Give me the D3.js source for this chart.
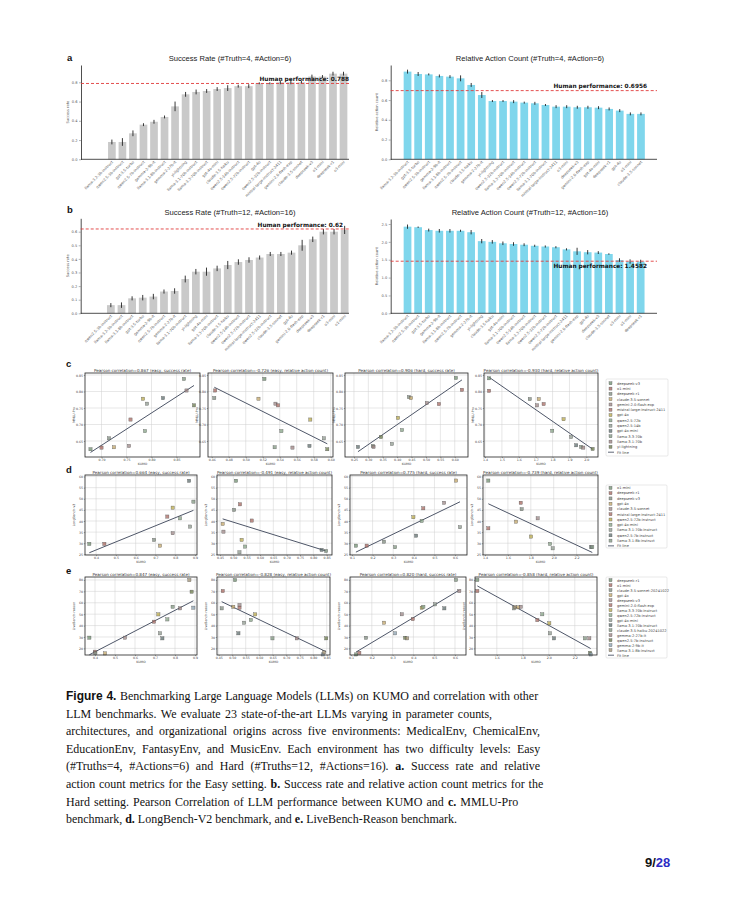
<!DOCTYPE html>
<html><head><meta charset="utf-8">
<script src="https://cdn.jsdelivr.net/npm/d3@7"></script>
<style>body{margin:0;background:#fff}svg{display:block}</style>
</head><body>
<script>
// ---------------- DATA ----------------
const aLeftNames=["llama-3.2-3b-instruct","qwen2.5-3b-instruct","gpt-3.5-turbo","qwen2.5-7b-instruct","gemma-2-9b-it","llama-3.1-8b-instruct","gemma-2-27b-it","yi-lightning","llama-3.1-70b-instruct","llama-3.3-70b-instruct","gpt-4o-mini","claude-3.5-haiku","qwen2.5-14b-instruct","qwen2.5-72b-instruct","gpt-4o","qwen2.5-32b-instruct","mistral-large-instruct-2411","gemini-2.0-flash-exp","claude-3.5-sonnet","deepseek-v3","o1-mini","deepseek-r1","o3-mini"];
const aLeftValues=[0.18,0.18,0.27,0.36,0.39,0.44,0.55,0.675,0.70,0.71,0.73,0.74,0.76,0.76,0.79,0.79,0.80,0.80,0.80,0.86,0.86,0.89,0.89];
const aLeftErr=[0.025,0.04,0.03,0.015,0.02,0.015,0.05,0.025,0.025,0.02,0.02,0.03,0.015,0.02,0.01,0.01,0.02,0.02,0.015,0.02,0.015,0.02,0.02];
const aLeftHuman=0.788;

const aRightNames=["llama-3.2-3b-instruct","gpt-3.5-turbo","qwen2.5-3b-instruct","gemma-2-9b-it","llama-3.1-8b-instruct","qwen2.5-7b-instruct","claude-3.5-haiku","gemma-2-27b-it","yi-lightning","qwen2.5-32b-instruct","llama-3.3-70b-instruct","qwen2.5-14b-instruct","qwen2.5-72b-instruct","llama-3.1-70b-instruct","mistral-large-instruct-2411","o3-mini","deepseek-v3","gemini-2.0-flash-exp","gpt-4o-mini","deepseek-r1","gpt-4o","o1-mini","claude-3.5-sonnet"];
const aRightValues=[0.888,0.864,0.86,0.844,0.837,0.82,0.753,0.651,0.59,0.59,0.584,0.574,0.567,0.55,0.533,0.533,0.527,0.527,0.523,0.51,0.493,0.46,0.46];
const aRightErr=[0.02,0.02,0.01,0.015,0.015,0.03,0.02,0.03,0.01,0.01,0.015,0.01,0.015,0.01,0.015,0.015,0.015,0.015,0.015,0.015,0.015,0.015,0.015];
const aRightHuman=0.6956;

const bLeftNames=["qwen2.5-3b-instruct","llama-3.2-3b-instruct","llama-3.1-8b-instruct","gpt-3.5-turbo","gemma-2-9b-it","qwen2.5-7b-instruct","gemma-2-27b-it","llama-3.1-70b-instruct","yi-lightning","gpt-4o-mini","llama-3.3-70b-instruct","claude-3.5-haiku","qwen2.5-14b-instruct","qwen2.5-72b-instruct","mistral-large-instruct-2411","qwen2.5-32b-instruct","claude-3.5-sonnet","gpt-4o","gemini-2.0-flash-exp","deepseek-v3","deepseek-r1","o3-mini","o1-mini"];
const bLeftValues=[0.06,0.06,0.11,0.115,0.123,0.16,0.164,0.252,0.306,0.306,0.33,0.355,0.377,0.392,0.41,0.436,0.436,0.446,0.50,0.544,0.60,0.60,0.613];
const bLeftErr=[0.015,0.02,0.015,0.02,0.02,0.015,0.02,0.025,0.02,0.03,0.02,0.03,0.02,0.02,0.015,0.015,0.015,0.015,0.04,0.02,0.02,0.02,0.03];
const bLeftHuman=0.62;

const bRightNames=["llama-3.2-3b-instruct","qwen2.5-3b-instruct","gpt-3.5-turbo","gemma-2-9b-it","llama-3.1-8b-instruct","qwen2.5-7b-instruct","gemma-2-27b-it","yi-lightning","claude-3.5-haiku","gpt-4o-mini","llama-3.1-70b-instruct","qwen2.5-14b-instruct","llama-3.3-70b-instruct","qwen2.5-32b-instruct","qwen2.5-72b-instruct","mistral-large-instruct-2411","gemini-2.0-flash-exp","gpt-4o","deepseek-v3","claude-3.5-sonnet","o3-mini","o1-mini","deepseek-r1"];
const bRightValues=[2.425,2.41,2.33,2.31,2.31,2.31,2.27,2.02,2.0,1.96,1.94,1.92,1.89,1.87,1.85,1.79,1.735,1.71,1.70,1.66,1.49,1.45,1.45];
const bRightErr=[0.06,0.02,0.04,0.05,0.05,0.03,0.06,0.06,0.05,0.05,0.05,0.04,0.03,0.03,0.03,0.03,0.1,0.06,0.04,0.02,0.05,0.06,0.05];
const bRightHuman=1.4582;

// scatter legends
const cLegend=["deepseek-v3","o1-mini","deepseek-r1","claude-3.5-sonnet","gemini-2.0-flash-exp","mistral-large-instruct-2411","gpt-4o","qwen2.5-72b","qwen2.5-14b","gpt-4o-mini","llama-3.3-70b","llama-3.1-70b","yi-lightning"];
const dLegend=["o1-mini","deepseek-r1","deepseek-v3","gpt-4o","claude-3.5-sonnet","mistral-large-instruct-2411","qwen2.5-72b-instruct","gpt-4o-mini","llama-3.1-70b-instruct","qwen2.5-7b-instruct","llama-3.1-8b-instruct"];
const eLegend=["deepseek-r1","o1-mini","claude-3.5-sonnet-20241022","gpt-4o","deepseek-v3","gemini-2.0-flash-exp","llama-3.3-70b-instruct","qwen2.5-72b-instruct","gpt-4o-mini","llama-3.1-70b-instruct","claude-3.5-haiku-20241022","gemma-2-27b-it","qwen2.5-7b-instruct","gemma-2-9b-it","llama-3.1-8b-instruct"];

// row c: KUMO vs MMLU-Pro
const c1X=[0.678,0.700,0.715,0.725,0.755,0.758,0.783,0.787,0.791,0.823,0.865,0.870,0.885];
const c1Y=[0.625,0.630,0.658,0.631,0.635,0.715,0.778,0.680,0.763,0.780,0.838,0.803,0.758];
const c2X=[0.522,0.464,0.463,0.515,0.535,0.538,0.576,0.542,0.592,0.575,0.534,0.555,0.596];
const c2Y=[0.838,0.803,0.780,0.778,0.763,0.758,0.715,0.680,0.658,0.635,0.631,0.630,0.625];
const c3X=[0.604,0.625,0.441,0.448,0.503,0.545,0.403,0.417,0.382,0.264,0.316,0.318,0.344];
const c3Y=[0.841,0.805,0.783,0.780,0.765,0.762,0.720,0.683,0.641,0.632,0.635,0.632,0.662];
const c4X=[1.424,1.424,1.665,1.718,1.708,1.747,1.865,1.798,1.910,1.940,1.969,1.982,2.037];
const c4Y=[0.840,0.802,0.777,0.777,0.758,0.762,0.716,0.681,0.662,0.637,0.632,0.630,0.626];
// row d: KUMO vs LongBench-v2
const d1X=[0.366,0.442,0.693,0.723,0.787,0.760,0.787,0.824,0.875,0.870,0.892];
const d1Y=[29.7,29.7,31.5,28.9,34.5,42.0,46.0,41.2,37.5,58.1,48.7];
const d2X=[0.510,0.525,0.503,0.460,0.463,0.569,0.531,0.544,0.523,0.831,0.848];
const d2Y=[58.1,47.5,45.0,38.7,35.2,40.2,31.5,28.5,25.9,27.0,26.5];
const d3X=[0.119,0.171,0.255,0.605,0.547,0.446,0.398,0.438,0.624,0.411,0.309];
const d3Y=[28.9,28.9,30.7,58.2,48.2,45.7,41.7,40.0,37.2,33.4,28.2];
const d4X=[1.429,1.712,1.720,1.671,1.860,1.429,1.802,1.968,1.991,2.326,2.337];
const d4Y=[58.2,48.2,45.3,39.7,41.2,36.7,33.0,29.7,27.7,28.2,28.2];
// row e: KUMO vs LiveBench-Reason
const e1X=[0.372,0.400,0.402,0.450,0.550,0.695,0.717,0.762,0.725,0.737,0.788,0.825,0.883,0.892,0.872];
const e1Y=[29.4,17.1,16.0,15.6,29.4,43.4,49.8,45.4,33.2,28.8,56.5,55.1,69.7,55.7,79.9];
const e2X=[0.5105,0.465,0.461,0.504,0.527,0.527,0.585,0.569,0.544,0.523,0.649,0.739,0.848,0.835,0.840];
const e2Y=[79.9,70.3,55.1,56.5,58.0,55.7,49.8,44.9,42.5,33.2,28.8,28.8,28.8,14.7,16.5];
const e3X=[0.124,0.140,0.172,0.259,0.344,0.397,0.440,0.448,0.504,0.549,0.605,0.621,0.360,0.312,0.370];
const e3Y=[14.7,16.1,29.3,42.5,49.9,45.7,55.6,56.5,58.6,55.1,80.0,70.3,29.3,33.2,28.8];
const e4X=[1.45,1.45,1.732,1.765,1.784,1.912,2.004,1.95,2.009,2.04,2.278,2.312,2.317,2.322,1.74];
const e4Y=[80.0,70.3,55.1,56.0,56.5,44.8,42.0,49.9,33.2,28.8,28.8,28.8,16.1,14.7,56.2];

const pearsonC=["Pearson correlation=0.867 (easy, success rate)","Pearson correlation=-0.726 (easy, relative action count)","Pearson correlation=0.906 (hard, success rate)","Pearson correlation=-0.930 (hard, relative action count)"];
const pearsonD=["Pearson correlation=0.664 (easy, success rate)","Pearson correlation=-0.491 (easy, relative action count)","Pearson correlation=0.775 (hard, success rate)","Pearson correlation=-0.739 (hard, relative action count)"];
const pearsonE=["Pearson correlation=0.847 (easy, success rate)","Pearson correlation=-0.828 (easy, relative action count)","Pearson correlation=0.820 (hard, success rate)","Pearson correlation=-0.858 (hard, relative action count)"];

const captionLines=[
 [["Figure 4.","fig"],[" Benchmarking Large Language Models (LLMs) on KUMO and correlation with other",""]],
 [["LLM benchmarks. We evaluate 23 state-of-the-art LLMs varying in parameter counts,",""]],
 [["architectures, and organizational origins across five environments: MedicalEnv, ChemicalEnv,",""]],
 [["EducationEnv, FantasyEnv, and MusicEnv. Each environment has two difficulty levels: Easy",""]],
 [["(#Truths=4, #Actions=6) and Hard (#Truths=12, #Actions=16). ",""],["a.","b"],[" Success rate and relative",""]],
 [["action count metrics for the Easy setting. ",""],["b.","b"],[" Success rate and relative action count metrics for the",""]],
 [["Hard setting. Pearson Correlation of LLM performance between KUMO and ",""],["c.","b"],[" MMLU-Pro",""]],
 [["benchmark, ",""],["d.","b"],[" LongBench-V2 benchmark, and ",""],["e.","b"],[" LiveBench-Reason benchmark.",""]]
];

// ---------------- STYLE ----------------
const palette=["#6f8f6f","#a5645c","#7d8b7d","#c2a466","#9c8585","#a86a62","#b8a84a","#84a184","#8d9a8d","#5f6f6f","#7f967f","#9a7f7f","#6a7a4a","#8aa0b0","#a09070"];
const SANS="'Liberation Sans', Arial, sans-serif";
const DSANS="'DejaVu Sans', sans-serif";
const SERIF="'Liberation Serif', serif";

const svg=d3.select("body").append("svg").attr("width",739).attr("height",902);
svg.append("rect").attr("width",739).attr("height",902).attr("fill","#fff");

function barPanel(o){
  const g=svg.append("g");
  const n=o.values.length;
  const x=d3.scaleBand().domain(d3.range(n)).range([o.bandL,o.bandR]).padding(0.27);
  const y=d3.scaleLinear().domain([0,o.ymax]).range([o.bottom,o.top]);
  g.selectAll("rect.bar").data(o.values).join("rect")
    .attr("x",(d,i)=>x(i)).attr("width",x.bandwidth())
    .attr("y",d=>y(d)).attr("height",d=>y(0)-y(d)).attr("fill",o.color);
  g.selectAll("line.err").data(o.values).join("line")
    .attr("x1",(d,i)=>x(i)+x.bandwidth()/2).attr("x2",(d,i)=>x(i)+x.bandwidth()/2)
    .attr("y1",(d,i)=>y(d-o.err[i])).attr("y2",(d,i)=>y(d+o.err[i]))
    .attr("stroke","#222").attr("stroke-width",0.9);
  const ax=g.append("g").attr("transform",`translate(${o.left},0)`)
    .call(d3.axisLeft(y).tickValues(o.yticks).tickFormat(d3.format(".1f")).tickSize(2).tickSizeOuter(0).tickPadding(1.5));
  ax.select(".domain").attr("stroke","#222").attr("stroke-width",0.8);
  ax.selectAll(".tick line").attr("stroke","#444").attr("stroke-width",0.4);
  ax.selectAll(".tick text").attr("font-size",3.6).attr("font-family",DSANS).attr("fill","#555");
  g.append("line").attr("x1",o.left).attr("x2",o.right).attr("y1",o.bottom).attr("y2",o.bottom).attr("stroke","#222").attr("stroke-width",0.8);
  g.selectAll("text.xl").data(o.names).join("text")
    .attr("transform",(d,i)=>`translate(${x(i)+x.bandwidth()/2+1.5},${o.bottom+3}) rotate(-45)`)
    .attr("text-anchor","end").attr("font-size",3.7).attr("font-family",DSANS).attr("fill","#555").text(d=>d);
  g.append("line").attr("x1",o.left).attr("x2",o.right).attr("y1",y(o.human)).attr("y2",y(o.human))
    .attr("stroke","#e03c3c").attr("stroke-width",0.9).attr("stroke-dasharray","3,2");
  g.append("text").attr("x",o.humanX).attr("y",y(o.human)+o.humanDy).attr("text-anchor","end")
    .attr("font-size",5.8).attr("font-weight","bold").attr("font-family",DSANS).attr("fill","#111")
    .text("Human performance: "+o.human);
  g.append("text").attr("x",o.titleX).attr("y",o.titleY).attr("text-anchor","middle")
    .attr("font-size",7.6).attr("font-family",SANS).attr("fill","#222").text(o.title);
  g.append("text").attr("transform",`translate(${o.ylabX},${(o.top+o.bottom)/2}) rotate(-90)`)
    .attr("text-anchor","middle").attr("font-size",3.6).attr("font-family",DSANS).attr("fill","#555").text(o.ylab);
}

barPanel({names:aLeftNames,values:aLeftValues,err:aLeftErr,human:aLeftHuman,color:"#c9c9c9",
  left:81,right:349,bandL:105.2,bandR:350.2,top:65,bottom:159.3,ymax:0.98,yticks:[0,0.2,0.4,0.6,0.8],
  humanX:349,humanDy:-2,title:"Success Rate (#Truth=4, #Action=6)",titleX:230,titleY:61,ylab:"Success rate",ylabX:69});
barPanel({names:aRightNames,values:aRightValues,err:aRightErr,human:aRightHuman,color:"#7fd6ec",
  left:390.7,right:657,bandL:400.8,bandR:647.7,top:65,bottom:159.3,ymax:0.955,yticks:[0,0.2,0.4,0.6,0.8],
  humanX:647,humanDy:-2.2,title:"Relative Action Count (#Truth=4, #Action=6)",titleX:530,titleY:61,ylab:"Relative action count",ylabX:378});
barPanel({names:bLeftNames,values:bLeftValues,err:bLeftErr,human:bLeftHuman,color:"#c9c9c9",
  left:80.7,right:349,bandL:104.1,bandR:351.4,top:218.3,bottom:313.3,ymax:0.6985,yticks:[0,0.1,0.2,0.3,0.4,0.5,0.6],
  humanX:343,humanDy:-2,title:"Success Rate (#Truth=12, #Action=16)",titleX:230,titleY:215,ylab:"Success rate",ylabX:69});
barPanel({names:bRightNames,values:bRightValues,err:bRightErr,human:bRightHuman,color:"#7fd6ec",
  left:390.7,right:657,bandL:400.8,bandR:647.4,top:219,bottom:313.3,ymax:2.64,yticks:[0,0.5,1.0,1.5,2.0,2.5],
  humanX:647,humanDy:6.5,title:"Relative Action Count (#Truth=12, #Action=16)",titleX:530,titleY:215,ylab:"Relative action count",ylabX:378});

function scatter(o){
  const g=svg.append("g");
  const x=d3.scaleLinear().domain(o.xd).range([o.l,o.r]);
  const y=d3.scaleLinear().domain(o.yd).range([o.b,o.t]);
  g.selectAll("line.gx").data(o.xt).join("line").attr("x1",d=>x(d)).attr("x2",d=>x(d)).attr("y1",o.t).attr("y2",o.b).attr("stroke","#cfcfcf").attr("stroke-width",0.5);
  g.selectAll("line.gy").data(o.yt).join("line").attr("y1",d=>y(d)).attr("y2",d=>y(d)).attr("x1",o.l).attr("x2",o.r).attr("stroke","#cfcfcf").attr("stroke-width",0.5);
  const xa=g.append("g").attr("transform",`translate(0,${o.b})`).call(d3.axisBottom(x).tickValues(o.xt).tickFormat(d3.format(o.xf)).tickSize(1.2).tickPadding(0.8));
  const ya=g.append("g").attr("transform",`translate(${o.l},0)`).call(d3.axisLeft(y).tickValues(o.yt).tickFormat(d3.format(o.yf)).tickSize(1.2).tickPadding(0.8));
  [xa,ya].forEach(a=>{a.select(".domain").remove();a.selectAll(".tick line").attr("stroke","#333").attr("stroke-width",0.4);
    a.selectAll(".tick text").attr("font-size",3.2).attr("font-family",DSANS).attr("fill","#444");});
  // fit line (least squares)
  const mx=d3.mean(o.xs),my=d3.mean(o.ys);
  const sxy=d3.sum(o.xs,(v,i)=>(v-mx)*(o.ys[i]-my)),sxx=d3.sum(o.xs,v=>(v-mx)*(v-mx));
  const k=sxy/sxx,c=my-k*mx;const [x0,x1]=d3.extent(o.xs);
  g.append("line").attr("x1",x(x0)).attr("x2",x(x1)).attr("y1",y(k*x0+c)).attr("y2",y(k*x1+c)).attr("stroke","#4e5668").attr("stroke-width",1);
  g.selectAll("rect.pt").data(o.xs).join("rect")
    .attr("x",(d,i)=>x(d)-1.6).attr("y",(d,i)=>y(o.ys[i])-1.6).attr("width",3.2).attr("height",3.2)
    .attr("fill",(d,i)=>palette[i%palette.length]).attr("fill-opacity",0.75).attr("stroke","#555").attr("stroke-width",0.35);
  g.append("rect").attr("x",o.l).attr("y",o.t).attr("width",o.r-o.l).attr("height",o.b-o.t).attr("fill","none").attr("stroke","#222").attr("stroke-width",0.8);
  g.append("text").attr("x",(o.l+o.r)/2).attr("y",o.t-1.3).attr("text-anchor","middle").attr("font-size",4.1).attr("font-family",DSANS).attr("fill","#333").text(o.title);
  g.append("text").attr("x",(o.l+o.r)/2).attr("y",o.b+7.8).attr("text-anchor","middle").attr("font-size",3.2).attr("font-family",DSANS).attr("fill","#444").text("KUMO");
  g.append("text").attr("transform",`translate(${o.l-10},${(o.t+o.b)/2}) rotate(-90)`).attr("text-anchor","middle").attr("font-size",3.2).attr("font-family",DSANS).attr("fill","#444").text(o.ylab);
}
function legend(o){
  const g=svg.append("g");
  g.append("rect").attr("x",o.l).attr("y",o.t).attr("width",o.w).attr("height",o.h).attr("rx",1).attr("fill","#fff").attr("stroke","#d0d0d0").attr("stroke-width",0.5);
  const items=o.names.concat(["Fit line"]);
  items.forEach((nm,i)=>{
    const yy=o.y0+i*o.dy;
    if(i<o.names.length){
      g.append("rect").attr("x",o.l+3).attr("y",yy-1.5).attr("width",3).attr("height",3).attr("fill",palette[i%palette.length]).attr("fill-opacity",0.75).attr("stroke","#555").attr("stroke-width",0.35);
    } else {
      g.append("line").attr("x1",o.l+2).attr("x2",o.l+8).attr("y1",yy).attr("y2",yy).attr("stroke","#4e5668").attr("stroke-width",0.9);
    }
    g.append("text").attr("x",o.l+11).attr("y",yy+1.3).attr("font-size",3.6).attr("font-family",DSANS).attr("fill","#444").text(nm);
  });
}

const f2=".2f",f1=".1f",f0="d";
// row c
const cy={t:373,b:457,yd:[0.6015,0.856],yt:[0.65,0.70,0.75,0.80,0.85],yf:f2,ylab:"MMLU-Pro"};
scatter({...cy,l:85,r:200,xd:[0.667,0.897],xt:[0.70,0.75,0.80,0.85],xf:f2,xs:c1X,ys:c1Y,title:pearsonC[0]});
scatter({...cy,l:208,r:333,xd:[0.4556,0.6027],xt:[0.46,0.48,0.50,0.52,0.54,0.56,0.58,0.60],xf:f2,xs:c2X,ys:c2Y,title:pearsonC[1]});
scatter({...cy,l:345,r:468,xd:[0.219,0.646],xt:[0.25,0.30,0.35,0.40,0.45,0.50,0.55,0.60],xf:f2,xs:c3X,ys:c3Y,title:pearsonC[2]});
scatter({...cy,l:484,r:598,xd:[1.394,2.069],xt:[1.4,1.5,1.6,1.7,1.8,1.9,2.0],xf:f1,xs:c4X,ys:c4Y,title:pearsonC[3]});
legend({names:cLegend,l:606,t:379,w:62,h:77,y0:383.3,dy:5.3});
// row d
const dy_={t:475,b:555,yd:[24.7,60.7],yt:[25,30,35,40,45,50,55,60],yf:f0,ylab:"LongBench-v2"};
scatter({...dy_,l:85,r:197,xd:[0.344,0.910],xt:[0.4,0.5,0.6,0.7,0.8,0.9],xf:f1,xs:d1X,ys:d1Y,title:pearsonD[0]});
scatter({...dy_,l:217,r:332,xd:[0.4388,0.87],xt:[0.45,0.50,0.55,0.60,0.65,0.70,0.75,0.80,0.85],xf:f2,xs:d2X,ys:d2Y,title:pearsonD[1]});
scatter({...dy_,l:350,r:467,xd:[0.0903,0.658],xt:[0.1,0.2,0.3,0.4,0.5,0.6],xf:f1,xs:d3X,ys:d3Y,title:pearsonD[2]});
scatter({...dy_,l:483,r:598,xd:[1.3825,2.387],xt:[1.4,1.6,1.8,2.0,2.2],xf:f1,xs:d4X,ys:d4Y,title:pearsonD[3]});
legend({names:dLegend,l:606,t:485,w:61,h:63,y0:487.9,dy:5.27});
// row e
const ey={t:577,b:655,yd:[14.2,82.6],yt:[20,30,40,50,60,70,80],yf:f0,ylab:"LiveBench-reason"};
scatter({...ey,l:85,r:197,xd:[0.35,0.91],xt:[0.4,0.5,0.6,0.7,0.8,0.9],xf:f1,xs:e1X,ys:e1Y,title:pearsonE[0]});
scatter({...ey,l:217,r:330,xd:[0.4437,0.862],xt:[0.45,0.50,0.55,0.60,0.65,0.70,0.75,0.80,0.85],xf:f2,xs:e2X,ys:e2Y,title:pearsonE[1]});
scatter({...ey,l:350,r:466,xd:[0.095,0.653],xt:[0.1,0.2,0.3,0.4,0.5,0.6],xf:f1,xs:e3X,ys:e3Y,title:pearsonE[2]});
scatter({...ey,l:475,r:597,xd:[1.432,2.371],xt:[1.6,1.8,2.0,2.2],xf:f1,xs:e4X,ys:e4Y,title:pearsonE[3]});
legend({names:eLegend,l:606,t:577,w:61,h:81,y0:580.2,dy:5.0});

// panel letters
[["a",67,61],["b",67,213],["c",66,367],["d",66,473],["e",66,574]].forEach(([t,x,y])=>
  svg.append("text").attr("x",x).attr("y",y).attr("font-size",9.5).attr("font-weight","bold").attr("font-family",SANS).attr("fill","#111").text(t));

// caption: one common font size that lets every line fit, then spaces stretched so each line ends where the reference's does
const capEnds=[538,492,540,540,540,543,518,457];
const capX=66;
const meas=svg.append("g").attr("opacity",0);
function segWidth(s,st,size){
  const t=meas.append("text").attr("font-size",size).attr("font-family",st==="fig"?SANS:SERIF)
    .attr("font-weight",st?"bold":"normal").style("white-space","pre").text(s.replace(/ /g,"\u00a0"));
  const w=t.node().getComputedTextLength(); t.remove(); return w;
}
let capSize=13.4;
const ratios=captionLines.map((segs,i)=>(capEnds[i]-capX)/d3.sum(segs,([s,st])=>segWidth(s,st,capSize)));
capSize=capSize*Math.min(1,d3.min(ratios));
captionLines.forEach((segs,i)=>{
  const yb=700+i*17.6;
  const widths=segs.map(([s,st])=>segWidth(s,st,capSize));
  const spaces=segs.map(([s])=>(s.match(/ /g)||[]).length);
  const total=d3.sum(widths), nsp=d3.sum(spaces);
  const extra=Math.max(0,(capEnds[i]-capX-total)/nsp);
  let cx=capX;
  segs.forEach(([s,st])=>{
    const words=s.split(" ");
    words.forEach((w,k)=>{
      if(w.length){
        svg.append("text").attr("x",cx).attr("y",yb).attr("font-size",capSize).attr("fill","#111")
          .attr("font-family",st==="fig"?SANS:SERIF).attr("font-weight",st?"bold":"normal").text(w);
        cx+=segWidth(w,st,capSize);
      }
      if(k<words.length-1) cx+=segWidth(" ",st,capSize)+extra;
    });
  });
});
meas.remove();
// page number
const pn=svg.append("text").attr("x",645).attr("y",867).attr("font-size",13).attr("font-weight","bold").attr("font-family",SANS);
pn.append("tspan").attr("fill","#111").text("9/");
pn.append("tspan").attr("fill","#2b2bc4").text("28");
</script>
</body></html>
